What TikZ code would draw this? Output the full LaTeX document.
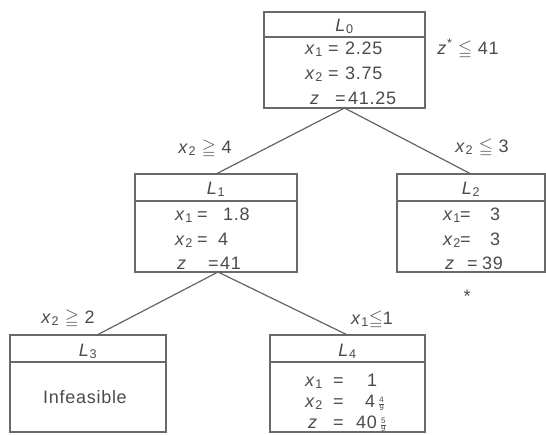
\documentclass[tikz,border=0pt]{standalone}
\usepackage{fontspec}
\usepackage{amssymb}
\setmainfont[LetterSpace=4]{Liberation Sans}
\definecolor{ink}{RGB}{75,75,75}
\definecolor{frame}{RGB}{105,105,105}
\definecolor{wire}{RGB}{100,100,100}
\newcommand\vx[1]{\textit{x}\textsubscript{#1}}
\newcommand\vz{\textit{z}}
\newcommand\sfr[2]{{\fontsize{8}{8}\selectfont$\frac{\mbox{#1}}{\mbox{#2}}$}}
\newcommand\lrow[5]{\makebox[#1][l]{#2}\makebox[#3][l]{=}#4#5}
\begin{document}
\begin{tikzpicture}[x=1pt,y=-1pt,
  box/.style={draw=frame,line width=2.6pt,inner sep=0pt,outer sep=0pt},
  divline/.style={draw=frame,line width=1.8pt},
  wirestyle/.style={draw=wire,line width=1.2pt},
  txt/.style={text=ink,font=\fontsize{18}{21}\selectfont,inner sep=0pt,anchor=base west},
  ctxt/.style={text=ink,font=\fontsize{18}{21}\selectfont,inner sep=0pt,anchor=base},
]
\useasboundingbox (0,0) rectangle (546,434);
\fill[white] (0,0) rectangle (546,434);

% boxes
\node[box,minimum width=161pt,minimum height=96pt] (b0) at (344.5,60) {};
\node[box,minimum width=162pt,minimum height=98pt] (b1) at (216,223) {};
\node[box,minimum width=148pt,minimum height=98pt] (b2) at (471,223) {};
\node[box,minimum width=156pt,minimum height=97pt] (b3) at (88,383.5) {};
\node[box,minimum width=155pt,minimum height=97pt] (b4) at (347.5,383.5) {};

% header dividers
\draw[divline] ([yshift=-25pt]b0.north west) -- ([yshift=-25pt]b0.north east);
\draw[divline] ([yshift=-27pt]b1.north west) -- ([yshift=-27pt]b1.north east);
\draw[divline] ([yshift=-27pt]b2.north west) -- ([yshift=-27pt]b2.north east);
\draw[divline] ([yshift=-27pt]b3.north west) -- ([yshift=-27pt]b3.north east);
\draw[divline] ([yshift=-27pt]b4.north west) -- ([yshift=-27pt]b4.north east);

% connectors
\draw[wirestyle] (b0.south) -- (b1.north);
\draw[wirestyle] (b0.south) -- (b2.north);
\draw[wirestyle] ([xshift=2pt]b1.south) -- ([xshift=9pt]b3.north);
\draw[wirestyle] ([xshift=2pt]b1.south) -- (b4.north);

% headers
\node[ctxt] (h0) at (344.5,31) {\textit{L}\textsubscript{0}};
\node[ctxt] (h1) at (216,194) {\textit{L}\textsubscript{1}};
\node[ctxt] (h2) at (471,194) {\textit{L}\textsubscript{2}};
\node[ctxt] (h3) at (88,356) {\textit{L}\textsubscript{3}};
\node[ctxt] (h4) at (347.5,356) {\textit{L}\textsubscript{4}};

% L0 rows
\node[txt] (r01) at (305,54) {\lrow{23pt}{\vx{1}}{17pt}{2.25}{}};
\node[txt] (r02) at (305,79) {\lrow{23pt}{\vx{2}}{17pt}{3.75}{}};
\node[txt] (r03) at (310,104) {\lrow{25pt}{\vz}{13pt}{41.25}{}};

% L1 rows
\node[txt] (r11) at (175,220) {\lrow{22pt}{\vx{1}}{26pt}{1.8}{}};
\node[txt] (r12) at (175,245) {\lrow{22pt}{\vx{2}}{21pt}{4}{}};
\node[txt] (r13) at (177,269) {\lrow{31pt}{\vz}{12pt}{41}{}};

% L2 rows
\node[txt] (r21) at (443,220) {\lrow{17pt}{\vx{1}}{30pt}{3}{}};
\node[txt] (r22) at (443,245) {\lrow{17pt}{\vx{2}}{30pt}{3}{}};
\node[txt] (r23) at (445,269) {\lrow{22pt}{\vz}{15pt}{39}{}};
\node[ctxt] (star) at (467,302) {*};

% L3
\node[ctxt] (inf) at (85,403) {Infeasible};

% L4 rows
\node[txt] (r41) at (305,386) {\lrow{28pt}{\vx{1}}{34pt}{1}{}};
\node[txt] (r42) at (305,407) {\lrow{28pt}{\vx{2}}{32pt}{4}{\,\raisebox{1pt}{\sfr{4}{9}}}};
\node[txt] (r43) at (308,428) {\lrow{25pt}{\vz}{23pt}{40}{\,\raisebox{1pt}{\sfr{5}{9}}}};

% branch labels
\node[ctxt] (c0) at (468,54) {\vz\textsuperscript{*} $\leqq$ 41};
\node[ctxt] (c1) at (205,153) {\vx{2} $\geqq$ 4};
\node[ctxt] (c2) at (482,152) {\vx{2} $\leqq$ 3};
\node[ctxt] (c3) at (68,323) {\vx{2} $\geqq$ 2};
\node[ctxt] (c4) at (372,324) {\vx{1}$\leqq$1};
\end{tikzpicture}
\end{document}
